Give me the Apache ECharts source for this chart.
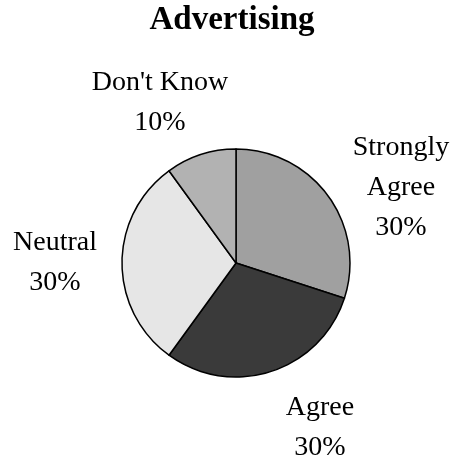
<!DOCTYPE html>
<html>
<head>
<meta charset="utf-8">
<script src="https://cdn.jsdelivr.net/npm/echarts@6/dist/echarts.min.js"></script>
<style>
html,body{margin:0;padding:0;background:#fff;}
#chart{width:450px;height:460px;}
</style>
</head>
<body>
<div id="chart"></div>
<script>
const titleText = "Advertising";
const categories = ["Strongly Agree", "Agree", "Neutral", "Don't Know"];
const labelNames = ["Strongly\nAgree", "Agree", "Neutral", "Don't Know"];
const values = [30, 30, 30, 10];
const colors = ["#a0a0a0", "#3a3a3a", "#e6e6e6", "#b2b2b2"];
// label centres (layout only)
const labelCenters = [[401, 188], [320, 428], [55, 263], [160, 103]];

const chart = echarts.init(document.getElementById('chart'), null, {renderer: 'canvas'});
const total = values.reduce((a, b) => a + b, 0);
chart.setOption({
  animation: false,
  backgroundColor: '#fff',
  title: {
    text: titleText,
    left: 227,
    top: -1,
    textAlign: 'center',
    textStyle: {fontFamily: 'Liberation Serif', fontWeight: 'bold', fontSize: 33, color: '#000'}
  },
  series: [{
    type: 'pie',
    center: [236, 263],
    radius: 114,
    startAngle: 90,
    clockwise: true,
    avoidLabelOverlap: false,
    itemStyle: {borderColor: '#000', borderWidth: 1.5},
    label: {
      show: true,
      position: 'outside',
      formatter: p => labelNames[p.dataIndex] + '\n' + Math.round(p.value / total * 100) + '%',
      fontFamily: 'Liberation Serif',
      fontSize: 28,
      lineHeight: 40,
      color: '#000',
      align: 'center'
    },
    labelLine: {show: false},
    labelLayout: params => ({
      x: labelCenters[params.dataIndex][0],
      y: labelCenters[params.dataIndex][1],
      align: 'center',
      verticalAlign: 'middle'
    }),
    data: categories.map((c, i) => ({name: c, value: values[i], itemStyle: {color: colors[i]}}))
  }]
});
</script>
</body>
</html>
